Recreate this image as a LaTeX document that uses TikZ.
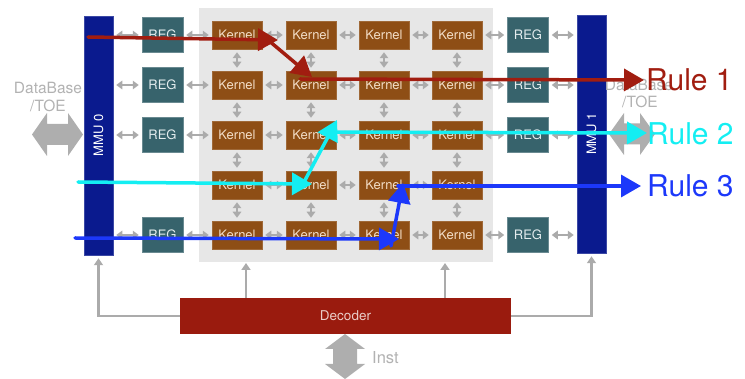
\documentclass[tikz,border=0pt]{standalone}
\usepackage{fontspec}
\setmainfont{TeX Gyre Heros}
\usetikzlibrary{arrows.meta}
\definecolor{kern}{HTML}{8E4E15}
\definecolor{kerntext}{HTML}{F3DEC8}
\definecolor{regc}{HTML}{37636C}
\definecolor{regtext}{HTML}{E3ECEE}
\definecolor{mmuc}{HTML}{0A1A8E}
\definecolor{decc}{HTML}{9A1B0E}
\definecolor{dectext}{HTML}{EBCDC8}
\definecolor{bgc}{HTML}{E7E7E7}
\definecolor{conn}{HTML}{ABABAB}
\definecolor{bigarr}{HTML}{AEAEAE}
\definecolor{dbtext}{HTML}{B2B2B2}
\definecolor{ruleA}{HTML}{A11D10}
\definecolor{ruleB}{HTML}{14EEF2}
\definecolor{ruleC}{HTML}{1C38FA}
\begin{document}
\begin{tikzpicture}[x=1pt,y=-1pt,
  kernel/.style={fill=kern, draw=kern!85!white, line width=0.5pt, text=kerntext, minimum width=50pt, minimum height=28pt, inner sep=0pt, font=\fontsize{13}{13}\selectfont},
  regbox/.style={fill=regc, draw=regc!75!white, line width=0.5pt, text=regtext, minimum width=41pt, minimum height=35pt, inner sep=0pt, font=\fontsize{13}{13}\selectfont},
  mmubox/.style={fill=mmuc, draw=mmuc!80!white, line width=0.5pt, text=white, rotate=90, minimum height=29pt, inner sep=0pt, font=\fontsize{13}{13}\selectfont},
  link/.style={draw=conn, line width=2.2pt, {Triangle[width=8.5pt,length=6pt]}-{Triangle[width=8.5pt,length=6pt]}, shorten <=3pt, shorten >=3pt},
  feed/.style={draw=conn, line width=2.5pt, -{Triangle[width=9pt,length=7pt]}},
  rulearrow/.style={line width=3.5pt, line cap=round, -{Triangle[width=22pt,length=20pt]}},
  ruletext/.style={anchor=west, inner sep=0pt, font=\fontsize{30}{30}\selectfont},
  dbtext/.style={text=dbtext, inner sep=0pt, font=\fontsize{15.5}{15.5}\selectfont},
  bigarrow/.style={fill=bigarr}
]
\useasboundingbox (0,0) rectangle (745,379);

% background of kernel array
\node[fill=bgc, minimum width=294pt, minimum height=254pt, inner sep=0pt] (bg) at (346,135) {};

% MMUs
\node[mmubox, minimum width=239pt] (mmu0) at (98.5,135.5) {MMU 0};
\node[mmubox, minimum width=238pt] (mmu1) at (591.5,134) {MMU 1};

% Kernels
\foreach \c/\x in {1/237,2/311,3/384,4/457}
  \foreach \r/\y in {1/35,2/85,3/135,4/185,5/235}
    \node[kernel] (k\r\c) at (\x,\y) {Kernel};

% REGs
\foreach \r/\y in {1/35,2/85,3/135,5/235}{
  \node[regbox] (rl\r) at (162.5,\y) {REG};
  \node[regbox] (rr\r) at (528,\y) {REG};
}

% horizontal links
\foreach \r in {1,2,3,5}{
  \draw[link] (mmu0.south |- rl\r.west) -- (rl\r.west);
  \draw[link] (rl\r) -- (k\r1);
  \draw[link] (k\r4) -- (rr\r);
  \draw[link] (rr\r.east) -- (mmu1.north |- rr\r.east);
}
\foreach \r in {1,2,3,4,5}{
  \draw[link] (k\r1) -- (k\r2);
  \draw[link] (k\r2) -- (k\r3);
  \draw[link] (k\r3) -- (k\r4);
}
% vertical links
\foreach \c in {1,2,3,4}
  \foreach \r/\s in {1/2,2/3,3/4,4/5}
    \draw[link] (k\r\c) -- (k\s\c);

% Decoder
\node[fill=decc, text=dectext, minimum width=331pt, minimum height=36pt, inner sep=0pt, font=\fontsize{13.5}{13.5}\selectfont] (dec) at (345.5,316) {Decoder};
\coordinate (up1) at (246,262);
\coordinate (up2) at (445,262);
\draw[feed, shorten >=3pt] (dec.west) -| (mmu0.west);
\draw[feed, shorten >=3pt] (dec.east) -| (mmu1.west);
\draw[feed, shorten >=1pt] (dec.north -| up1) -- (up1);
\draw[feed, shorten >=1pt] (dec.north -| up2) -- (up2);

% big double arrows
\fill[bigarrow] (32,134.5) -- (47,113) -- (47,124) -- (68,124) -- (68,113) -- (83,134.5)
  -- (68,156) -- (68,145) -- (47,145) -- (47,156) -- cycle;
\fill[bigarrow] (609,134) -- (624,113) -- (624,123.5) -- (640,123.5) -- (640,113) -- (655,134)
  -- (640,155) -- (640,144.5) -- (624,144.5) -- (624,155) -- cycle;
\fill[bigarrow] (345,334) -- (365,349) -- (357,349) -- (357,364) -- (365,364) -- (345,379)
  -- (325,364) -- (333,364) -- (333,349) -- (325,349) -- cycle;

% labels
\node[dbtext] (dbl1) at (48,88) {DataBase};
\node[dbtext] (dbl2) at (48,106) {/TOE};
\node[dbtext] (dbr1) at (639,85) {DataBase};
\node[dbtext] (dbr2) at (640,102) {/TOE};
\node[text=dbtext, anchor=west, inner sep=0pt, font=\fontsize{16.5}{16.5}\selectfont] (inst) at (372,358) {Inst};

% Rule 1
\coordinate (a0) at (88,37);
\coordinate (a1) at (278,40);
\coordinate (a2) at (268,40);
\coordinate (a3) at (312,77);
\coordinate (a4) at (300,79);
\coordinate (a5) at (644,80);
\draw[ruleA, rulearrow] (a0) -- (a1);
\draw[ruleA, rulearrow] (a2) -- (a3);
\draw[ruleA, rulearrow] (a4) -- (a5);
\node[ruletext, text=ruleA] (rule1) at (646,80) {Rule 1};

% Rule 2
\coordinate (b0) at (78,182);
\coordinate (b1) at (312,184);
\coordinate (b2) at (303,184);
\coordinate (b3) at (337,120);
\coordinate (b4) at (328,132);
\coordinate (b5) at (647,133);
\draw[ruleB, rulearrow] (b0) -- (b1);
\draw[ruleB, rulearrow] (b2) -- (b3);
\draw[ruleB, rulearrow] (b4) -- (b5);
\node[ruletext, text=ruleB] (rule2) at (647,134) {Rule 2};

% Rule 3
\coordinate (c0) at (75,238);
\coordinate (c1) at (399,239);
\coordinate (c2) at (391,246);
\coordinate (c3) at (403,183);
\coordinate (c4) at (398,186);
\coordinate (c5) at (641,186);
\draw[ruleC, rulearrow] (c0) -- (c1);
\draw[ruleC, rulearrow] (c2) -- (c3);
\draw[ruleC, rulearrow] (c4) -- (c5);
\node[ruletext, text=ruleC] (rule3) at (647,186) {Rule 3};
\end{tikzpicture}
\end{document}
